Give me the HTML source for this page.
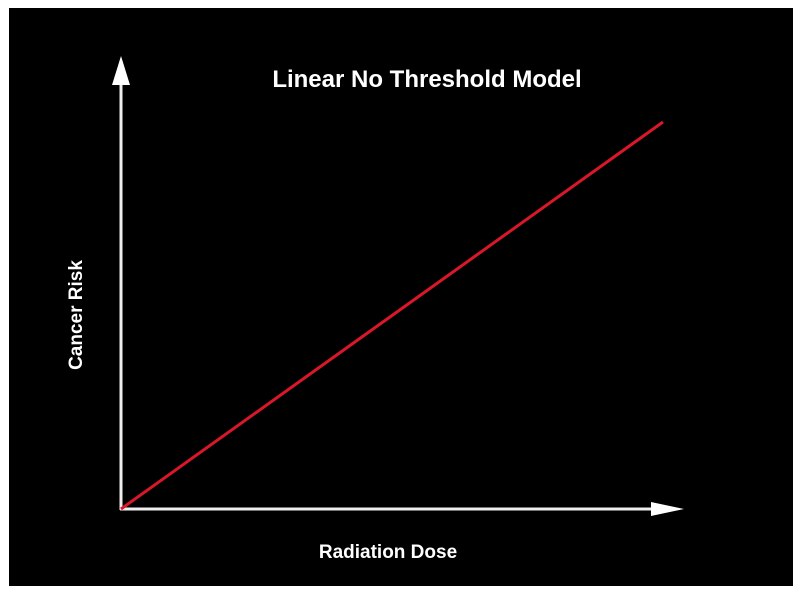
<!DOCTYPE html>
<html><head><meta charset="utf-8"><style>
html,body{margin:0;padding:0;background:#fff;}
svg{display:block;}
text{font-family:"Liberation Sans",sans-serif;font-weight:bold;fill:#fff;}
</style></head><body>
<svg id="chart" width="800" height="592" viewBox="0 0 800 592">
<rect x="9" y="8" width="784" height="578" fill="#000"/>
<text x="427" y="87" font-size="24" text-anchor="middle">Linear No Threshold Model</text>
<line x1="121" y1="510" x2="121" y2="82" stroke="#eee" stroke-width="3"/>
<polygon points="121,56 112,85 130,85" fill="#fff"/>
<line x1="120" y1="509" x2="654" y2="509" stroke="#eee" stroke-width="3"/>
<polygon points="684,509 651,502 651,516" fill="#fff"/>
<text x="388" y="558" font-size="19" text-anchor="middle">Radiation Dose</text>
<text x="0" y="0" font-size="19" text-anchor="middle" transform="translate(82,315) rotate(-90)">Cancer Risk</text>
<g id="series"></g>
</svg>
<script>
const dose = [0, 1];
const risk = [0, 1];
function xScale(v){ return 121 + v * (663 - 121); }
function yScale(v){ return 509 - v * (509 - 122); }
const g = document.getElementById('series');
const ns = 'http://www.w3.org/2000/svg';
const pl = document.createElementNS(ns, 'polyline');
pl.setAttribute('points', dose.map((d,i)=>xScale(d)+','+yScale(risk[i])).join(' '));
pl.setAttribute('fill', 'none');
pl.setAttribute('stroke', '#d8182a');
pl.setAttribute('stroke-width', '3');


g.appendChild(pl);
</script>
</body></html>
